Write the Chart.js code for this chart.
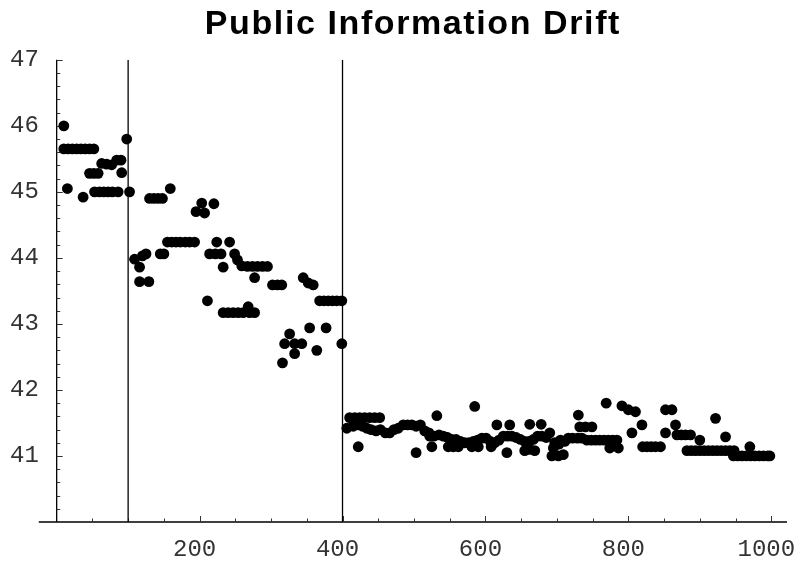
<!DOCTYPE html>
<html>
<head>
<meta charset="utf-8">
<script src="https://cdn.jsdelivr.net/npm/chart.js@4/dist/chart.umd.min.js"></script>
<style>
  body { margin: 0; background: #fff; }
  canvas { display: block; }
</style>
</head>
<body>
<canvas id="chart" width="797" height="565"></canvas>
<script>
'use strict';

const CHART_TITLE = 'Public Information Drift';

// [x, y] points, one list per regime
const phaseOne = [
    [10, 46.0], [15, 45.05], [37, 44.92],
    [10, 45.65], [16, 45.65], [22, 45.65], [28, 45.65], [34, 45.65], [40, 45.65], [46, 45.65], [52, 45.65],
    [46, 45.28], [52, 45.28], [58, 45.28],
    [53, 45.0], [60, 45.0], [66, 45.0], [72, 45.0], [78, 45.0], [86, 45.0],
    [63, 45.43], [70, 45.42], [77, 45.41], [84, 45.48], [90, 45.48],
    [91, 45.29], [98, 45.8]
];

const phaseTwo = [
    [102, 45.0], [130, 44.9], [136, 44.9], [142, 44.9], [148, 44.9], [159, 45.05],
    [109, 43.98], [116, 43.86], [120, 44.03], [125, 44.06], [116, 43.64], [129, 43.64],
    [145, 44.06], [150, 44.06],
    [155, 44.24], [161, 44.24], [167, 44.24], [173, 44.24], [180, 44.24], [186, 44.24], [193, 44.24],
    [195, 44.7], [203, 44.83], [207, 44.68], [220, 44.82],
    [211, 43.35],
    [214, 44.06], [222, 44.06], [230, 44.06], [224, 44.24], [242, 44.24],
    [233, 43.86], [249, 44.06], [253, 43.97], [259, 43.88],
    [267, 43.87], [274, 43.87], [281, 43.87], [288, 43.87], [295, 43.87],
    [277, 43.7],
    [233, 43.17], [240, 43.17], [247, 43.17], [254, 43.17], [261, 43.17], [268, 43.26], [270, 43.17], [277, 43.17],
    [302, 43.59], [309, 43.59], [315, 43.59],
    [345, 43.7], [352, 43.62], [359, 43.59],
    [368, 43.35], [374, 43.35], [380, 43.35], [386, 43.35], [392, 43.35], [399, 43.35],
    [354, 42.94], [377, 42.94],
    [326, 42.85], [319, 42.7], [333, 42.7], [343, 42.7], [333, 42.55], [364, 42.6],
    [316, 42.41], [399, 42.7]
];

const phaseThree = [
    [406, 41.42], [410, 41.58], [417, 41.58], [424, 41.58], [431, 41.58], [438, 41.58], [445, 41.58], [452, 41.58],
    [415, 41.45], [422, 41.47], [428, 41.45], [434, 41.42], [440, 41.4], [447, 41.38], [453, 41.4],
    [460, 41.35], [466, 41.35], [472, 41.4], [478, 41.42], [485, 41.47], [491, 41.47], [497, 41.47],
    [503, 41.45], [509, 41.47], [515, 41.38], [521, 41.35],
    [532, 41.61], [585, 41.75], [616, 41.47], [634, 41.47], [662, 41.48], [678, 41.48],
    [522, 41.3], [528, 41.3], [535, 41.32], [541, 41.3], [547, 41.28], [553, 41.25], [559, 41.25],
    [565, 41.22], [571, 41.2], [577, 41.2], [583, 41.22], [589, 41.24], [595, 41.27], [601, 41.27],
    [607, 41.22], [613, 41.2], [619, 41.24], [625, 41.3], [631, 41.3], [637, 41.3], [643, 41.28],
    [649, 41.25], [655, 41.22], [661, 41.22], [667, 41.25], [673, 41.3], [679, 41.3], [685, 41.28],
    [690, 41.35], [697, 41.2], [703, 41.18], [705, 41.24], [711, 41.22],
    [422, 41.14], [503, 41.05], [525, 41.14], [548, 41.14], [555, 41.14], [562, 41.14],
    [581, 41.14], [590, 41.14], [608, 41.14], [630, 41.05], [655, 41.08], [662, 41.1], [669, 41.08],
    [693, 41.0], [695, 41.12], [702, 41.0], [709, 41.02],
    [716, 41.27], [722, 41.27], [729, 41.27], [735, 41.27],
    [730, 41.62], [732, 41.44], [740, 41.44], [749, 41.44],
    [742, 41.24], [748, 41.24], [754, 41.24], [760, 41.24], [766, 41.24], [772, 41.24], [778, 41.24], [784, 41.24],
    [774, 41.12], [786, 41.12],
    [769, 41.8], [791, 41.76], [800, 41.7], [810, 41.67],
    [805, 41.35], [819, 41.47],
    [820, 41.14], [826, 41.14], [832, 41.14], [838, 41.14], [845, 41.14],
    [852, 41.7], [861, 41.7], [852, 41.35], [866, 41.47],
    [868, 41.32], [874, 41.32], [880, 41.32], [887, 41.32], [900, 41.24],
    [882, 41.08], [888, 41.08], [894, 41.08], [900, 41.08], [906, 41.08], [912, 41.08], [918, 41.08],
    [924, 41.08], [930, 41.08], [936, 41.08], [942, 41.08], [948, 41.08],
    [922, 41.57], [936, 41.29], [970, 41.14],
    [947, 41.0], [953, 41.0], [959, 41.0], [965, 41.0], [971, 41.0], [977, 41.0], [983, 41.0],
    [989, 41.0], [995, 41.0], [998, 41.0]
];

const markerLines = [100, 400];
const xTickLabels = [200, 400, 600, 800, 1000];
const yTickLabels = [41, 42, 43, 44, 45, 46, 47];
const X_RANGE = [-25, 1022];
const Y_RANGE = [40, 47];

const tickFont = { family: "'Liberation Mono', 'Courier New', monospace", size: 24 };

function toPoints(pairs) {
    return pairs.map(([x, y]) => ({ x: x, y: y }));
}

// wider title tracking; reset before the marks and tick labels (z: 1) are drawn
const titleSpacing = {
    id: 'titleSpacing',
    beforeDraw(chart) {
        chart.ctx.letterSpacing = '1.6px';
    },
    beforeDatasetsDraw(chart) {
        chart.ctx.letterSpacing = '0px';
    }
};

// axis lines drawn through the origin, with Mathematica style inward ticks
const axisFrame = {
    id: 'axisFrame',
    beforeDatasetsDraw(chart) {
        const { ctx, scales: { x, y } } = chart;
        const xOrigin = x.getPixelForValue(0);
        const yOrigin = y.getPixelForValue(Y_RANGE[0]);
        ctx.save();
        ctx.strokeStyle = '#000';
        ctx.lineWidth = 1.3;
        ctx.beginPath();
        ctx.moveTo(x.left, yOrigin);
        ctx.lineTo(x.right, yOrigin);
        ctx.moveTo(xOrigin, y.getPixelForValue(Y_RANGE[1]));
        ctx.lineTo(xOrigin, yOrigin);
        ctx.stroke();

        ctx.lineWidth = 1;
        ctx.strokeStyle = '#333';
        ctx.beginPath();
        for (let v = 50; v <= 1000; v += 50) {
            const px = Math.round(x.getPixelForValue(v)) + 0.5;
            const len = v % 200 === 0 ? 6 : 3.5;
            ctx.moveTo(px, yOrigin);
            ctx.lineTo(px, yOrigin - len);
        }
        for (let i = 1; i <= 35; i++) {
            const v = 40 + i * 0.2;
            const py = Math.round(y.getPixelForValue(v)) + 0.5;
            const len = i % 5 === 0 ? 6 : 3.5;
            ctx.moveTo(xOrigin, py);
            ctx.lineTo(xOrigin + len, py);
        }
        ctx.stroke();
        ctx.restore();
    }
};

document.addEventListener('DOMContentLoaded', function () {
    const datasets = markerLines.map((xv) => ({
        data: [{ x: xv, y: Y_RANGE[0] }, { x: xv, y: Y_RANGE[1] }],
        showLine: true,
        borderColor: '#000',
        borderWidth: 1.3,
        pointRadius: 0
    }));
    datasets.push({
        data: toPoints(phaseOne.concat(phaseTwo, phaseThree)),
        backgroundColor: '#000',
        borderWidth: 0,
        pointRadius: 5.4
    });

    new Chart(document.getElementById('chart'), {
        type: 'scatter',
        data: { datasets: datasets },
        plugins: [titleSpacing, axisFrame],
        options: {
            responsive: false,
            animation: false,
            layout: { padding: { left: 10, right: 10, top: 0, bottom: 1 } },
            plugins: {
                legend: { display: false },
                tooltip: { enabled: false },
                title: {
                    display: true,
                    fullSize: false,
                    text: CHART_TITLE,
                    color: '#000',
                    font: { family: "'Liberation Sans', Arial, sans-serif", size: 34, weight: 'bold' },
                    padding: { top: 4, bottom: 15 }
                }
            },
            scales: {
                x: {
                    type: 'linear',
                    min: X_RANGE[0],
                    max: X_RANGE[1],
                    grid: { display: false, drawTicks: false },
                    border: { display: false },
                    afterBuildTicks: (scale) => {
                        scale.ticks = xTickLabels.map((v) => ({ value: v }));
                    },
                    afterFit: (scale) => {
                        scale.paddingLeft = 0;
                        scale.paddingRight = 0;
                        scale.height = 42;
                    },
                    ticks: {
                        z: 1, font: tickFont, color: '#333', padding: 13, labelOffset: -5, maxRotation: 0,
                        callback: (value) => String(value)
                    }
                },
                y: {
                    type: 'linear',
                    min: Y_RANGE[0],
                    max: Y_RANGE[1],
                    grid: { display: false, drawTicks: false },
                    border: { display: false },
                    afterBuildTicks: (scale) => {
                        scale.ticks = yTickLabels.map((v) => ({ value: v }));
                    },
                    afterFit: (scale) => {
                        scale.paddingTop = 0;
                        scale.paddingBottom = 0;
                    },
                    ticks: { z: 1, font: tickFont, color: '#333', padding: 0, callback: (value) => String(value) }
                }
            }
        }
    });
});
</script>
</body>
</html>
